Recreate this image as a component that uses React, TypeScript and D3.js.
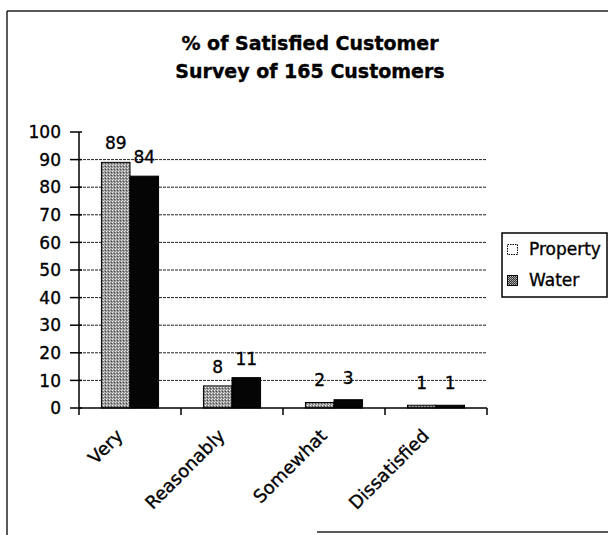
import React from "react";
import * as d3 from "d3";

const categories = ["Very", "Reasonably", "Somewhat", "Dissatisfied"];
const seriesNames = ["Property", "Water"];
const propertyValues = [89, 8, 2, 1];
const waterValues = [84, 11, 3, 1];
const yTicks = [0, 10, 20, 30, 40, 50, 60, 70, 80, 90, 100];
const gridValues = [10, 20, 30, 40, 50, 60, 70, 80, 90];
const titleLines = ["% of Satisfied Customer", "Survey of 165 Customers"];

const W = 608;
const H = 535;
const FONT = "'DejaVu Sans', Arial, sans-serif";
const TXT = { stroke: "#000", strokeWidth: 0.35 };

export default function App() {
  const left = 79;
  const right = 487;
  const top = 132;
  const bottom = 408;

  const y = d3.scaleLinear().domain([0, 100]).range([bottom, top]);
  const x0 = d3.scaleBand<string>().domain(categories).range([left, right]);
  const bw = x0.bandwidth();
  const x1 = d3
    .scaleBand<string>()
    .domain(seriesNames)
    .range([bw * 0.22, bw * 0.78]);

  const data = [propertyValues, waterValues];
  const fills = ["url(#propPat)", "url(#waterPat)"];

  return (
    <svg
      width={W}
      height={H}
      style={{ position: "absolute", left: 0, top: 0, background: "#fff" }}
      fontFamily={FONT}
    >
      <defs>
        <pattern id="propPat" width="3" height="3" patternUnits="userSpaceOnUse">
          <rect width="3" height="3" fill="#959595" />
          <rect x="0" y="0" width="1" height="1" fill="#eeeeee" />
          <rect x="2" y="1" width="1" height="1" fill="#4a4a4a" />
          <rect x="1" y="2" width="1" height="1" fill="#d0d0d0" />
        </pattern>
        <pattern id="waterPat" width="2" height="2" patternUnits="userSpaceOnUse">
          <rect width="2" height="2" fill="#050505" />
        </pattern>
        <pattern id="waterLeg" width="2" height="2" patternUnits="userSpaceOnUse">
          <rect width="2" height="2" fill="#333" />
          <rect x="0" y="0" width="1" height="1" fill="#bbb" />
          <rect x="1" y="1" width="1" height="1" fill="#999" />
        </pattern>
      </defs>

      {/* outer frame */}
      <line x1={7} y1={11} x2={W} y2={11} stroke="#222" strokeWidth={1.5} />
      <line x1={7} y1={11} x2={7} y2={H} stroke="#222" strokeWidth={1.5} />
      <line x1={317} y1={532} x2={W} y2={532} stroke="#222" strokeWidth={1.5} />

      {/* title */}
      <text x={310} y={50} textAnchor="middle" fontWeight="bold" fontSize={19} {...TXT}>
        {titleLines[0]}
      </text>
      <text x={310} y={78} textAnchor="middle" fontWeight="bold" fontSize={19} {...TXT}>
        {titleLines[1]}
      </text>

      {/* gridlines */}
      {gridValues.map((v) => (
        <line
          key={"g" + v}
          x1={left}
          x2={right - 1}
          y1={y(v)}
          y2={y(v)}
          stroke="#222"
          strokeWidth={1}
          strokeDasharray="3,1"
        />
      ))}

      {/* bars */}
      {categories.map((c, i) => (
        <g key={c} transform={`translate(${x0(c)},0)`}>
          {seriesNames.map((s, j) => {
            const v = data[j][i];
            const bx = x1(s)!;
            return (
              <g key={s}>
                <rect
                  x={bx}
                  y={y(v)}
                  width={x1.bandwidth()}
                  height={bottom - y(v)}
                  fill={fills[j]}
                  stroke="#000"
                  strokeWidth={1}
                />
                <text
                  x={bx + x1.bandwidth() / 2}
                  y={y(v) - (v < 5 ? 16 : 13)}
                  textAnchor="middle"
                  fontSize={17}
                  {...TXT}
                >
                  {v}
                </text>
              </g>
            );
          })}
        </g>
      ))}

      {/* y axis */}
      <line x1={left} x2={left} y1={top} y2={bottom} stroke="#000" strokeWidth={1.5} />
      {yTicks.map((v) => (
        <g key={"t" + v}>
          <line x1={left - 9} x2={left + 3} y1={y(v)} y2={y(v)} stroke="#000" strokeWidth={1.5} />
          <text x={61} y={y(v)} dy="0.36em" textAnchor="end" fontSize={17} {...TXT}>
            {v}
          </text>
        </g>
      ))}

      {/* x axis */}
      <line x1={left} x2={right} y1={bottom} y2={bottom} stroke="#000" strokeWidth={1.5} />
      {[...categories.map((c) => x0(c)!), right].map((px, i) => (
        <line key={"xt" + i} x1={px} x2={px} y1={bottom} y2={bottom + 7} stroke="#000" strokeWidth={1.5} />
      ))}
      {categories.map((c) => {
        const cx = x0(c)! + bw / 2;
        return (
          <text
            key={"l" + c}
            transform={`translate(${cx - 6},437) rotate(-45)`}
            textAnchor="end"
            fontSize={18}
            {...TXT}
          >
            {c}
          </text>
        );
      })}

      {/* legend */}
      <rect x={502} y={233} width={105} height={64} fill="#fff" stroke="#000" strokeWidth={1.5} />
      <rect x={507.5} y={244.5} width={10} height={10} fill="#fff" stroke="#000" strokeWidth={1} strokeDasharray="1.5,1" />
      <text x={529} y={255} fontSize={17} {...TXT}>
        {seriesNames[0]}
      </text>
      <rect x={507.5} y={275.5} width={10} height={10} fill="url(#waterLeg)" stroke="#000" strokeWidth={1} />
      <text x={529} y={286} fontSize={17} {...TXT}>
        {seriesNames[1]}
      </text>
    </svg>
  );
}
